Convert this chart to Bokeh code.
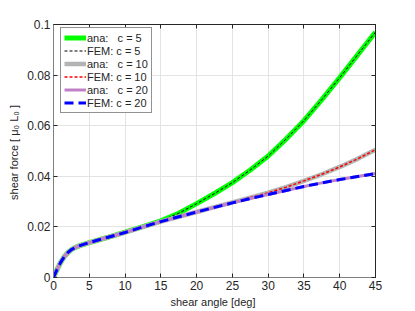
from bokeh.plotting import figure
from bokeh.models import Legend, LegendItem, LinearAxis, FixedTicker, CustomJSTickFormatter, Range1d
from bokeh.embed import file_html
from bokeh.resources import INLINE

angle = [0, 0.5, 1, 1.5, 2, 2.5, 3, 3.5, 4, 5, 6, 7.5, 10, 12.5, 15, 17.5, 20,
         22.5, 25, 27.5, 30, 32.5, 35, 37.5, 40, 42.5, 45]
force_c20 = [0, 0.0032, 0.0060, 0.0082, 0.0098, 0.0110, 0.0118, 0.0124, 0.0129,
             0.0138, 0.0146, 0.0158, 0.0178, 0.0200, 0.0221, 0.0240, 0.0259,
             0.0277, 0.0295, 0.0312, 0.0328, 0.0344, 0.0360, 0.0374, 0.0387,
             0.0399, 0.0411]
force_c10 = [0, 0.0032, 0.0060, 0.0082, 0.0098, 0.0110, 0.0118, 0.0124, 0.0129,
             0.0138, 0.0146, 0.0158, 0.0178, 0.0200, 0.0221, 0.0240, 0.0259,
             0.0278, 0.0297, 0.0316, 0.0335, 0.0357, 0.0382, 0.0408, 0.0437,
             0.0469, 0.0505]
force_c5 = [0, 0.0032, 0.0060, 0.0082, 0.0098, 0.0110, 0.0118, 0.0124, 0.0129,
            0.0138, 0.0146, 0.0158, 0.0179, 0.0201, 0.0224, 0.0254, 0.0292,
            0.0332, 0.0375, 0.0425, 0.0480, 0.0547, 0.0620, 0.0703, 0.0790,
            0.0880, 0.0970]

x_ticks = [0, 5, 10, 15, 20, 25, 30, 35, 40, 45]
y_ticks = [0, 0.02, 0.04, 0.06, 0.08, 0.1]
y_tick_labels = ["0", "0.02", "0.04", "0.06", "0.08", "0.1"]

FONT = "Liberation Sans"
TXT = "#262626"

p = figure(frame_width=322, frame_height=253, output_backend="svg", toolbar_location=None,
           x_range=Range1d(0, 45), y_range=Range1d(0, 0.1),
           min_border_left=53, min_border_right=38, min_border_top=24,
           min_border_bottom=32, background_fill_color="white",
           border_fill_color="white")
p.outline_line_color = TXT
p.outline_line_width = 1

for ax in (p.xaxis[0], p.yaxis[0]):
    ax.major_tick_in = 4
    ax.major_tick_out = 0
    ax.minor_tick_in = 0
    ax.minor_tick_out = 0
    ax.axis_line_color = "#808080"
    ax.major_tick_line_color = TXT
    ax.major_label_text_font = FONT
    ax.major_label_text_font_size = "12px"
    ax.major_label_text_color = TXT
    ax.axis_label_text_font = FONT
    ax.axis_label_text_font_size = "11px"
    ax.axis_label_text_color = TXT
    ax.axis_label_text_font_style = "normal"
    ax.major_label_standoff = 3
    ax.axis_label_standoff = 3

p.yaxis.major_label_standoff = 3
p.yaxis.axis_label_standoff = 4
p.xaxis.ticker = FixedTicker(ticks=x_ticks)
p.yaxis.ticker = FixedTicker(ticks=y_ticks)
p.yaxis.major_label_overrides = {t: l for t, l in zip(y_ticks, y_tick_labels)}
p.xaxis.axis_label = "shear angle  [deg]"
p.yaxis.axis_label = "shear force  [ \u03bc\u2080 L\u2080 ]"

blank = CustomJSTickFormatter(code="return ''")
top = LinearAxis(ticker=FixedTicker(ticks=x_ticks), formatter=blank,
                 major_tick_in=4, major_tick_out=0, minor_tick_in=0, minor_tick_out=0,
                 major_label_standoff=0, axis_line_color=TXT, major_tick_line_color=TXT,
                 major_label_text_font_size="1px")
right = LinearAxis(ticker=FixedTicker(ticks=y_ticks), formatter=blank,
                   major_tick_in=4, major_tick_out=0, minor_tick_in=0, minor_tick_out=0,
                   major_label_standoff=0, axis_line_color=TXT, major_tick_line_color=TXT,
                   major_label_text_font_size="1px")
p.add_layout(top, "above")
p.add_layout(right, "right")

p.xgrid.grid_line_color = "#e3e3e3"
p.ygrid.grid_line_color = "#e3e3e3"
p.xgrid.ticker = FixedTicker(ticks=x_ticks)
p.ygrid.ticker = FixedTicker(ticks=y_ticks)

r1 = p.line(angle, force_c5, line_color="#00ff00", line_width=5)
r2 = p.line(angle, force_c5, line_color="black", line_width=1, line_dash="3 2")
r3 = p.line(angle, force_c10, line_color="#b3b3b3", line_width=4.5)
r4 = p.line(angle, force_c10, line_color="#ff0000", line_width=1.5, line_dash="3 2")
r5 = p.line(angle, force_c20, line_color="#c080c8", line_width=3)
r6 = p.line(angle, force_c20, line_color="#0000ff", line_width=3, line_dash="9 5")

nb = "\u00a0"
legend = Legend(items=[
    LegendItem(label="ana:" + nb * 3 + "c = 5", renderers=[r1]),
    LegendItem(label="FEM:" + nb + "c = 5", renderers=[r2]),
    LegendItem(label="ana:" + nb * 3 + "c = 10", renderers=[r3]),
    LegendItem(label="FEM:" + nb + "c = 10", renderers=[r4]),
    LegendItem(label="ana:" + nb * 3 + "c = 20", renderers=[r5]),
    LegendItem(label="FEM:" + nb + "c = 20", renderers=[r6]),
], location=(7, 164))
legend.margin = 0
legend.padding = 3
legend.spacing = 0
legend.label_height = 13
legend.glyph_height = 13
legend.glyph_width = 22
legend.label_standoff = 1
legend.label_text_font = FONT
legend.label_text_font_size = "11px"
legend.label_text_color = TXT
legend.border_line_color = TXT
legend.border_line_width = 1
legend.background_fill_alpha = 1
p.add_layout(legend)

open("out.html", "w").write(file_html(p, INLINE))
